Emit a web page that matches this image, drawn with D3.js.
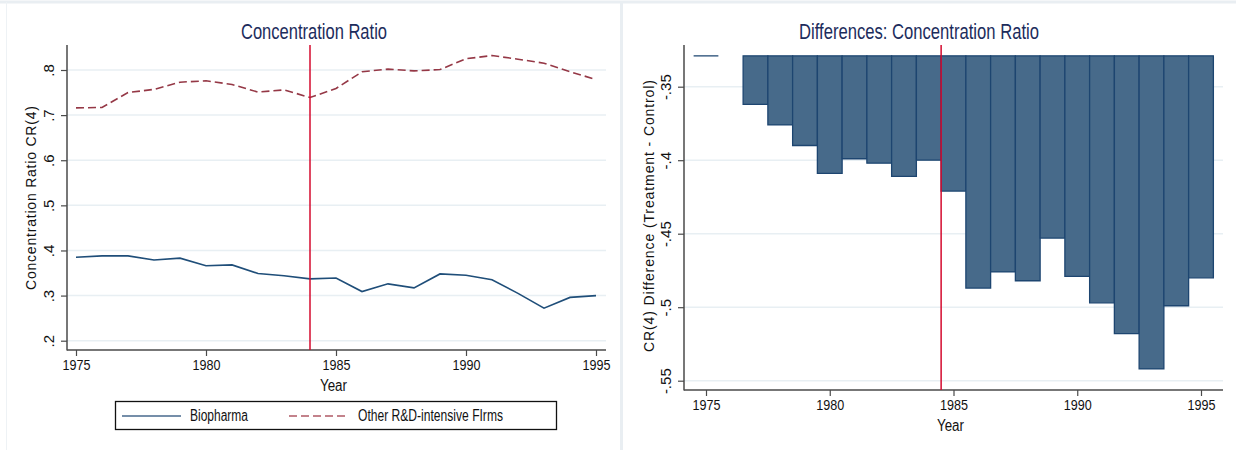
<!DOCTYPE html>
<html>
<head>
<meta charset="utf-8">
<script src="https://cdn.jsdelivr.net/npm/d3@7"></script>
<style>
  body { margin: 0; background: #fff; }
  svg { display: block; }
</style>
</head>
<body>
<div id="chart"></div>
<script>
// data
const years = [1975, 1976, 1977, 1978, 1979, 1980, 1981, 1982, 1983, 1984, 1985,
               1986, 1987, 1988, 1989, 1990, 1991, 1992, 1993, 1994, 1995];
const biopharma = [0.385, 0.388, 0.388, 0.379, 0.383, 0.366, 0.368, 0.349, 0.344, 0.337, 0.339,
                   0.309, 0.326, 0.317, 0.348, 0.345, 0.335, 0.305, 0.272, 0.296, 0.300];
const otherRD = [0.716, 0.717, 0.750, 0.757, 0.773, 0.776, 0.768, 0.751, 0.756, 0.739, 0.759,
                 0.796, 0.802, 0.798, 0.801, 0.825, 0.832, 0.824, 0.815, 0.796, 0.779];
const diffCR = [-0.329, null, -0.362, -0.376, -0.390, -0.409, -0.399, -0.402, -0.411, -0.400, -0.421,
                -0.487, -0.476, -0.482, -0.453, -0.479, -0.497, -0.518, -0.542, -0.499, -0.480];
const barBase = -0.329;
const xTicks = [1975, 1980, 1985, 1990, 1995];
const yTicksLeft = [0.2, 0.3, 0.4, 0.5, 0.6, 0.7, 0.8];
const yTicksRight = [-0.55, -0.5, -0.45, -0.4, -0.35];
const treatLeft = 1984, treatRight = 1984.5;
const seriesNames = ["Biopharma", "Other R&D-intensive FIrms"];

const W = 1236, H = 450;
const narrow = "'Liberation Sans Narrow', 'Arial Narrow', 'Liberation Sans', sans-serif";
const regular = "'Liberation Sans', Arial, sans-serif";
const navy = "#1c2c5c", blue = "#1f4e79", maroon = "#953846", red = "#d40a2e";
const gridCol = "#e8eff3", axisCol = "#4a4a4a";

const svg = d3.select("#chart").append("svg").attr("width", W).attr("height", H);

// faint panel frames
svg.append("line").attr("x1", 0).attr("x2", W).attr("y1", 2).attr("y2", 2)
  .attr("stroke", "#e9eef2").attr("stroke-width", 3);
svg.append("line").attr("x1", 6.5).attr("x2", 6.5).attr("y1", 2).attr("y2", H)
  .attr("stroke", "#eef2f5").attr("stroke-width", 1);
svg.append("line").attr("x1", 621.5).attr("x2", 621.5).attr("y1", 2).attr("y2", H)
  .attr("stroke", "#e9eef2").attr("stroke-width", 3);

const fmtTick = v => {
  let s = (Math.round(v * 100) / 100).toString();
  return s.replace("0.", ".");
};

function panel(o) {
  const g = svg.append("g");
  // gridlines
  g.selectAll(".grid").data(o.yTicks).enter().append("line")
    .attr("x1", o.left).attr("x2", o.right)
    .attr("y1", d => o.y(d)).attr("y2", d => o.y(d))
    .attr("stroke", gridCol).attr("stroke-width", 1.5);

  // x axis
  const xa = g.append("g").attr("transform", `translate(0,${o.bottom})`)
    .call(d3.axisBottom(o.x).tickValues(xTicks).tickFormat(d3.format("d")).tickSize(6).tickSizeOuter(0));
  xa.select(".domain").remove();
  xa.selectAll("line").attr("stroke", axisCol).attr("stroke-width", 1.2);
  xa.selectAll("text").attr("y", 9).attr("dy", "0.71em")
    .attr("textLength", 28).attr("lengthAdjust", "spacingAndGlyphs")
    .style("font-family", narrow).style("font-size", "15px").attr("fill", "#111");

  // y axis
  const ya = g.append("g").attr("transform", `translate(${o.left},0)`)
    .call(d3.axisLeft(o.y).tickValues(o.yTicks).tickFormat(fmtTick).tickSize(6).tickSizeOuter(0));
  ya.select(".domain").remove();
  ya.selectAll("line").attr("stroke", axisCol).attr("stroke-width", 1.2);
  ya.selectAll("text").attr("x", null).attr("dy", null)
    .attr("transform", "translate(-13,0) rotate(-90)")
    .style("text-anchor", "middle")
    .style("font-family", regular).style("font-size", "15px").attr("fill", "#111");

  // axis lines
  g.append("line").attr("x1", o.left).attr("x2", o.left).attr("y1", o.top).attr("y2", o.bottom + 0.5)
    .attr("stroke", axisCol).attr("stroke-width", 1.5);
  g.append("line").attr("x1", o.left).attr("x2", o.right).attr("y1", o.bottom).attr("y2", o.bottom)
    .attr("stroke", axisCol).attr("stroke-width", 1.5);

  // titles
  g.append("text").attr("x", o.titleX).attr("y", 39)
    .attr("text-anchor", "middle").attr("textLength", o.titleLen).attr("lengthAdjust", "spacingAndGlyphs")
    .style("font-family", narrow).style("font-size", "22px").attr("fill", navy)
    .text(o.title);
  g.append("text").attr("x", (o.left + o.right) / 2 - 3).attr("y", o.bottom + 41)
    .attr("text-anchor", "middle").attr("textLength", 27).attr("lengthAdjust", "spacingAndGlyphs")
    .style("font-family", narrow).style("font-size", "16px").attr("fill", "#111")
    .text("Year");
  g.append("text")
    .attr("transform", `translate(${o.ytX},${o.ytY}) rotate(-90)`)
    .attr("text-anchor", "middle").attr("textLength", o.ytLen).attr("lengthAdjust", "spacing")
    .style("font-family", regular).style("font-size", "14px").attr("fill", "#111")
    .text(o.ytitle);
  return g;
}

// ---- left panel: lines ----
const xL = d3.scaleLinear().domain([1975, 1995]).range([76, 596]);
const yL = d3.scaleLinear().domain([0.2, 0.8]).range([340.7, 70]);
const gL = panel({
  x: xL, y: yL, yTicks: yTicksLeft, left: 67, right: 606, top: 45, bottom: 350,
  title: "Concentration Ratio", titleX: 314, titleLen: 146,
  ytitle: "Concentration Ratio CR(4)", ytX: 36, ytY: 198, ytLen: 184
});

const line = d3.line().x((d, i) => xL(years[i])).y(d => yL(d));
gL.append("path").datum(biopharma).attr("d", line)
  .attr("fill", "none").attr("stroke", blue).attr("stroke-width", 1.6);
gL.append("path").datum(otherRD).attr("d", line)
  .attr("fill", "none").attr("stroke", maroon).attr("stroke-width", 1.6).attr("stroke-dasharray", "8,4");
gL.append("line").attr("x1", xL(treatLeft)).attr("x2", xL(treatLeft)).attr("y1", 45).attr("y2", 350)
  .attr("stroke", red).attr("stroke-width", 1.5);

// legend
const lg = svg.append("g");
lg.append("rect").attr("x", 115.5).attr("y", 401.5).attr("width", 441).attr("height", 28)
  .attr("fill", "#fff").attr("stroke", "#111").attr("stroke-width", 1.3);
lg.append("line").attr("x1", 122).attr("x2", 181).attr("y1", 416).attr("y2", 416)
  .attr("stroke", "#47698c").attr("stroke-width", 1.6);
lg.append("text").attr("x", 190).attr("y", 421).attr("textLength", 58).attr("lengthAdjust", "spacingAndGlyphs")
  .style("font-family", narrow).style("font-size", "16px").attr("fill", "#111").text(seriesNames[0]);
lg.append("line").attr("x1", 289).attr("x2", 349).attr("y1", 416).attr("y2", 416)
  .attr("stroke", "#b05a66").attr("stroke-width", 1.6).attr("stroke-dasharray", "8,4");
lg.append("text").attr("x", 358).attr("y", 421).attr("textLength", 145).attr("lengthAdjust", "spacingAndGlyphs")
  .style("font-family", narrow).style("font-size", "16px").attr("fill", "#111").text(seriesNames[1]);

// ---- right panel: bars ----
const xR = d3.scaleLinear().domain([1975, 1995]).range([706, 1201]);
const yR = d3.scaleLinear().domain([-0.55, -0.35]).range([380.7, 86.7]);
const gR = panel({
  x: xR, y: yR, yTicks: yTicksRight, left: 684, right: 1223, top: 45, bottom: 390,
  title: "Differences: Concentration Ratio", titleX: 919, titleLen: 240,
  ytitle: "CR(4) Difference (Treatment - Control)", ytX: 654, ytY: 216, ytLen: 272
});

const half = (xR(1976) - xR(1975)) / 2;
const barData = years.map((yr, i) => ({ yr, v: diffCR[i] })).filter(d => d.v !== null);
gR.selectAll(".bar").data(barData).enter().append("path")
  .attr("d", d => {
    const x0 = xR(d.yr) - half, x1 = xR(d.yr) + half;
    const yb = yR(barBase), yv = yR(d.v);
    return `M${x0},${yb}V${yv}H${x1}V${yb}Z`;
  })
  .attr("fill", "#476a8a").attr("stroke", "#1d4570").attr("stroke-width", 1.3);

gR.append("line").attr("x1", xR(treatRight)).attr("x2", xR(treatRight)).attr("y1", 45).attr("y2", 390)
  .attr("stroke", red).attr("stroke-width", 1.5);
</script>
</body>
</html>
